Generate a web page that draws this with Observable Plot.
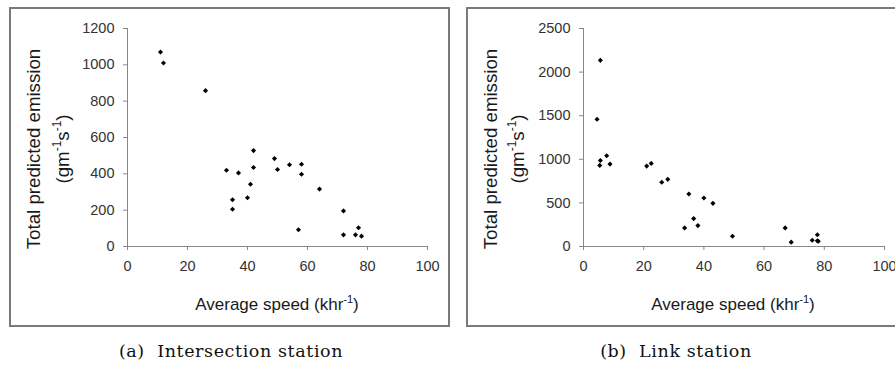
<!DOCTYPE html>
<html><head><meta charset="utf-8">
<script src="https://cdn.jsdelivr.net/npm/d3@7"></script>
<script src="https://cdn.jsdelivr.net/npm/@observablehq/plot@0.6"></script>
<style>
body{margin:0;background:#fff;width:895px;height:376px;overflow:hidden;position:relative;font-family:"Liberation Sans",Arial,sans-serif}
.box{position:absolute;box-sizing:border-box;border:2px solid #7a7a7a}
.panel{position:absolute;top:0}
.cap{position:absolute;font-family:"DejaVu Serif",serif;font-size:17.5px;letter-spacing:0.6px;transform:translateX(-50%);white-space:nowrap;color:#111;line-height:20px}
</style></head><body>
<div class="box" style="left:9px;top:7px;width:441px;height:320px"></div>
<div class="box" style="left:466px;top:7px;width:460px;height:320px"></div>
<div id="a" class="panel" style="left:0"></div>
<div id="b" class="panel" style="left:450px"></div>
<div class="cap" style="left:231px;top:341px">(a)&nbsp; Intersection station</div>
<div class="cap" style="left:676px;top:341px">(b)&nbsp; Link station</div>
<script>
// Intersection station
const intSpeed    = [11, 12, 26, 33, 35, 35, 37, 40, 41, 42, 42, 49, 50, 54, 58, 58, 57, 64, 72, 72, 76, 77, 78];
const intEmission = [1070, 1010, 858, 420, 257, 205, 405, 268, 343, 528, 435, 484, 424, 450, 453, 398, 92, 316, 196, 64, 64, 103, 57];
// Link station
const linkSpeed    = [5.6, 4.5, 5.6, 5.4, 7.7, 8.8, 21, 22.5, 26, 28, 35, 40, 43, 33.6, 36.6, 38, 49.5, 67, 69, 76, 77.7, 77.7, 78];
const linkEmission = [2135, 1460, 987, 930, 1040, 945, 922, 953, 736, 770, 602, 556, 495, 213, 320, 240, 118, 213, 50, 72, 134, 65, 60];
// ticks
const xTicks = [0, 20, 40, 60, 80, 100];
const intYTicks = [0, 200, 400, 600, 800, 1000, 1200];
const linkYTicks = [0, 500, 1000, 1500, 2000, 2500];
const xLabel = ["Average speed (khr", "-1", ")"];
const yLabel1 = "Total predicted emission";
const yLabel2 = ["(gm", "-1", "s", "-1", ")"];

function panel(el, xs, ys, yTicks, opts) {
  const data = xs.map((x, i) => ({x, y: ys[i]}));
  const font = "'Liberation Sans', Arial, sans-serif";
  const svg = Plot.plot({
    width: opts.width, height: 330,
    marginLeft: opts.ml, marginRight: opts.mr, marginTop: 28, marginBottom: 84,
    style: {background: "transparent", overflow: "visible", fontFamily: font, fontSize: "14.5px", color: "#333"},
    x: {domain: [0, 100]},
    y: {domain: [0, yTicks[yTicks.length - 1]]},
    marks: [
      Plot.ruleX([0], {stroke: "#888"}),
      Plot.ruleY([0], {stroke: "#888"}),
      Plot.axisX(xTicks, {tickSize: 4, tickPadding: 10, stroke: "#888", fill: "#333", label: null, fontSize: 14.5, fontFamily: font, tickFormat: d => String(d)}),
      Plot.axisY(yTicks, {tickSize: 4, tickPadding: 9, stroke: "#888", fill: "#333", label: null, fontSize: 14.5, fontFamily: font, tickFormat: d => String(d)}),
      Plot.dot(data, {x: "x", y: "y", symbol: "diamond2", r: 2.3, fill: "#000", stroke: "none"})
    ]
  });
  document.getElementById(el).appendChild(svg);
  const s = d3.select(svg);
  const g = s.append("g").attr("font-family", font).attr("fill", "#1a1a1a");
  // x label
  const xt = g.append("text").attr("font-size", 17).attr("x", opts.xc).attr("y", 310).attr("text-anchor", "middle");
  xt.append("tspan").text(xLabel[0]);
  xt.append("tspan").attr("dy", -7).attr("font-size", 11).text(xLabel[1]);
  xt.append("tspan").attr("dy", 7).text(xLabel[2]);
  // y labels
  g.append("text").attr("font-size", 18.7).attr("transform", `translate(${opts.y1},149) rotate(-90)`).attr("text-anchor", "middle").attr("dy", "0.35em").text(yLabel1);
  const t2 = g.append("text").attr("font-size", 18.7).attr("transform", `translate(${opts.y2},149) rotate(-90)`).attr("text-anchor", "middle").attr("y", 6.5);
  t2.append("tspan").text(yLabel2[0]);
  t2.append("tspan").attr("dy", -8).attr("font-size", 12).text(yLabel2[1]);
  t2.append("tspan").attr("dy", 8).text(yLabel2[2]);
  t2.append("tspan").attr("dy", -8).attr("font-size", 12).text(yLabel2[3]);
  t2.append("tspan").attr("dy", 8).text(yLabel2[4]);
}

panel("a", intSpeed, intEmission, intYTicks, {width: 450, ml: 127, mr: 23, xc: 277, y1: 33, y2: 62});
panel("b", linkSpeed, linkEmission, linkYTicks, {width: 445, ml: 133, mr: 11, xc: 283, y1: 40, y2: 67});
</script>
</body></html>
